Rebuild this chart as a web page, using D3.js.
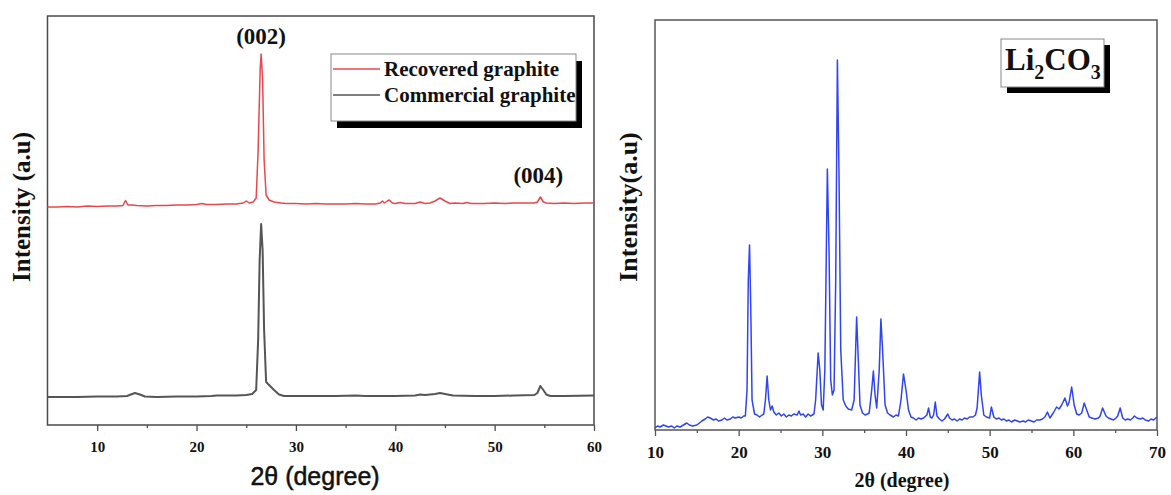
<!DOCTYPE html>
<html>
<head>
<meta charset="utf-8">
<script src="https://cdn.jsdelivr.net/npm/d3@7"></script>
<style>
  body { margin: 0; background: #fff; }
  svg { display: block; }
</style>
</head>
<body>
<svg id="chart" width="1171" height="495"></svg>
<script>
// ---- data (intensities in arbitrary units) ----
const recoveredTheta = [5, 6, 7, 8, 9, 10, 11, 12, 12.6, 12.85, 13.1, 13.5, 14, 15, 16, 17, 18, 19, 20, 20.5, 21, 22, 23, 24, 24.7, 25, 25.3, 25.7, 26.0, 26.2, 26.4, 26.5, 26.65, 26.8, 27.0, 27.3, 27.8, 28.5, 29, 30, 31, 32, 33, 34, 35, 36, 37, 38, 38.5, 38.7, 38.9, 39.2, 39.4, 39.7, 40, 40.5, 41, 42, 42.5, 43, 43.5, 44.0, 44.5, 45.0, 45.5, 46, 46.8, 47.2, 47.6, 48, 49, 50, 51, 52, 53, 54, 54.3, 54.6, 54.9, 55.2, 56, 57, 58, 59, 60];
const recoveredIntensity = [218, 218, 218.5, 218, 219, 218.5, 219, 219, 219.5, 224.5, 220, 220, 219.5, 219, 219.5, 219.5, 220, 220, 220.5, 221.5, 220.5, 220.5, 221, 221, 222, 224, 222, 223, 227, 275, 355, 371, 345, 265, 230, 225, 223, 222, 221.5, 221.5, 221, 221.5, 221, 221, 221, 221.5, 221, 221, 222, 224, 222, 224, 225, 222, 221.5, 222.5, 221.5, 221.5, 223, 221.5, 222, 224, 227, 224, 221.5, 222, 221.5, 222.5, 221.5, 221.5, 221.5, 222, 221.5, 222, 222, 222, 223, 228, 223, 222, 221.5, 222, 221.5, 222, 222];

const commercialTheta = [5, 6, 8, 10, 12, 13, 13.4, 13.8, 14.3, 14.8, 16, 18, 20, 21.5, 22, 24, 25, 25.6, 26.0, 26.2, 26.35, 26.5, 26.65, 26.8, 27.0, 27.3, 27.8, 28.3, 28.8, 30, 32, 34, 36, 37, 40, 42, 42.5, 43, 44, 44.5, 45, 45.8, 48, 50, 52, 54, 54.3, 54.6, 54.9, 55.2, 55.6, 57, 60];
const commercialIntensity = [28, 28, 28, 28.5, 28.5, 29, 30.5, 32, 30.5, 28.5, 28, 28.5, 28.5, 29, 29.5, 29.5, 30, 31, 35, 85, 165, 201, 175, 95, 43, 40, 35, 30.5, 29, 29, 29, 29, 29.5, 29, 29, 29.5, 30.5, 30, 31, 32, 31, 29.5, 29, 29, 29.5, 30, 32, 39, 35, 30.5, 29, 29, 29.5];

const li2co3Theta = [
  10, 10.3, 10.6, 11, 11.3, 11.6, 12, 12.3, 12.6, 13,
  13.4, 13.8, 14.1, 14.5, 15, 15.3, 15.6, 16, 16.3, 16.6,
  17, 17.3, 17.6, 18, 18.3, 18.6, 19, 19.3, 19.6, 20,
  20.3, 20.6, 20.8, 21.0, 21.15, 21.3, 21.45, 21.6, 21.9, 22.2,
  22.5, 22.8, 23.0, 23.2, 23.4, 23.6, 23.8, 24.0, 24.2, 24.5,
  24.8, 25.1, 25.4, 25.7, 26, 26.3, 26.6, 27, 27.2, 27.4,
  27.7, 28, 28.3, 28.6, 29, 29.2, 29.5, 29.7, 29.9, 30.1,
  30.3, 30.6, 30.8, 31.0, 31.2, 31.4, 31.6, 31.8, 32.0, 32.2,
  32.5, 32.8, 33.1, 33.5, 33.8, 34.1, 34.3, 34.5, 34.8, 35.1,
  35.4, 35.6, 35.9, 36.1, 36.3, 36.5, 36.8, 37.0, 37.2, 37.5,
  37.8, 38.1, 38.5, 38.8, 39.1, 39.4, 39.7, 40.0, 40.3, 40.6,
  40.9, 41.2, 41.5, 41.8, 42.1, 42.5, 42.7, 42.9, 43.1, 43.3,
  43.5, 43.7, 44, 44.3, 44.6, 45, 45.2, 45.5, 45.8, 46.1,
  46.4, 46.7, 47, 47.3, 47.6, 48, 48.3, 48.5, 48.8, 49.0,
  49.3, 49.6, 50, 50.2, 50.5, 50.8, 51.1, 51.4, 51.7, 52,
  52.3, 52.6, 53, 53.3, 53.6, 54, 54.3, 54.6, 55, 55.3,
  55.6, 56, 56.3, 56.6, 56.9, 57.2, 57.6, 58, 58.3, 58.6,
  59, 59.3, 59.5, 59.8, 60.1, 60.4, 60.7, 61, 61.3, 61.6,
  61.9, 62.2, 62.6, 63, 63.2, 63.5, 63.9, 64.2, 64.5, 64.8,
  65.1, 65.3, 65.6, 65.9, 66.2, 66.5, 66.8, 67.1, 67.3, 67.6,
  68, 68.3, 68.6, 69, 69.3, 69.6, 70
];
const li2co3Intensity = [
  2, 4, 3, 5, 4, 3, 4, 2, 4, 3,
  5, 7, 5, 4, 5, 7, 9, 11, 13, 12,
  10, 11, 9, 10, 12, 10, 11, 13, 12, 13,
  12, 14, 14, 40, 150, 185, 120, 30, 16, 15,
  13, 15, 16, 30, 54, 30, 20, 24, 18, 15,
  17, 14, 16, 13, 15, 14, 16, 15, 19, 15,
  16, 13, 16, 14, 16, 30, 77, 60, 25, 20,
  60, 261, 180, 50, 35, 40, 150, 370, 250, 80,
  30, 24, 21, 20, 30, 113, 70, 25, 17, 15,
  16, 17, 40, 59, 35, 22, 60, 111, 80, 25,
  17, 15, 13, 15, 14, 30, 56, 40, 20, 13,
  12, 10, 12, 11, 12, 15, 22, 13, 12, 15,
  28, 14, 11, 9, 11, 16, 12, 10, 11, 9,
  11, 10, 12, 11, 13, 13, 15, 22, 58, 35,
  15, 13, 12, 23, 13, 11, 12, 10, 11, 9,
  10, 8, 10, 9, 8, 9, 8, 10, 9, 8,
  10, 10, 11, 13, 18, 12, 17, 23, 21, 25,
  32, 24, 28, 43, 25, 16, 15, 17, 27, 20,
  13, 12, 11, 12, 14, 22, 14, 12, 11, 10,
  12, 14, 22, 12, 10, 11, 10, 12, 14, 12,
  11, 12, 10, 9, 11, 10, 13
];

const graphiteMajorTicks = [10, 20, 30, 40, 50, 60];
const graphiteMinorTicks = [15, 25, 35, 45, 55];
const li2co3MajorTicks = [10, 20, 30, 40, 50, 60, 70];
const li2co3MinorTicks = [15, 25, 35, 45, 55, 65];

const legendLabels = ["Recovered graphite", "Commercial graphite"];
const peakLabels = [{ text: "(002)", theta: 26.5, value: 381 }, { text: "(004)", theta: 54.4, value: 242 }];

const SERIF = "'Liberation Serif', 'Times New Roman', serif";
const SANS = "'Liberation Sans', Arial, sans-serif";

const svg = d3.select("#chart");

function createPanel(opts) {
  const g = svg.append("g");
  const x = d3.scaleLinear().domain(opts.xDomain).range([opts.left, opts.right]);
  const y = d3.scaleLinear().domain(opts.yDomain).range([opts.bottom, opts.top]);

  // minor ticks
  g.append("g")
    .attr("transform", `translate(0,${opts.bottom})`)
    .call(d3.axisBottom(x).tickValues(opts.minor).tickSize(3).tickSizeOuter(0).tickFormat(""))
    .call((a) => a.select(".domain").remove())
    .selectAll("line").attr("stroke", opts.frameColor).attr("stroke-width", 1.3);

  // major ticks + labels
  const ax = g.append("g")
    .attr("transform", `translate(0,${opts.bottom})`)
    .call(d3.axisBottom(x).tickValues(opts.major).tickSize(6).tickSizeOuter(0).tickPadding(opts.tickPad).tickFormat(d3.format("d")));
  ax.select(".domain").remove();
  ax.selectAll("line").attr("stroke", opts.frameColor).attr("stroke-width", 1.3);
  ax.selectAll("text")
    .attr("fill", "#111")
    .style("font-family", SERIF)
    .style("font-weight", "bold")
    .style("font-size", opts.tickFont + "px");

  // frame
  g.append("rect")
    .attr("x", opts.left)
    .attr("y", opts.top)
    .attr("width", opts.right - opts.left)
    .attr("height", opts.bottom - opts.top)
    .attr("fill", "none")
    .attr("stroke", opts.frameColor)
    .attr("stroke-width", 1.5);

  // y label
  g.append("text")
    .attr("transform", `translate(${opts.yLabelX},${opts.yLabelY}) rotate(-90)`)
    .attr("text-anchor", "middle")
    .style("font-family", SERIF)
    .style("font-weight", "bold")
    .style("font-size", opts.yLabelFont + "px")
    .attr("fill", "#111")
    .text(opts.yLabel);

  return { g, x, y };
}

function drawSeries(panel, theta, intensity, color, width) {
  const pts = theta.map((t, i) => [t, intensity[i]]);
  panel.g.append("path")
    .datum(pts)
    .attr("fill", "none")
    .attr("stroke", color)
    .attr("stroke-width", width)
    .attr("stroke-linejoin", "round")
    .attr("d", d3.line().x((d) => panel.x(d[0])).y((d) => panel.y(d[1])));
}

// ---- left panel: graphite ----
const left = createPanel({
  left: 47.5, right: 594, top: 16, bottom: 425,
  xDomain: [5, 60], yDomain: [0, 409],
  major: graphiteMajorTicks, minor: graphiteMinorTicks,
  tickPad: 10, tickFont: 15,
  frameColor: "#4a4a4a",
  yLabel: "Intensity (a.u)", yLabelX: 30, yLabelY: 207, yLabelFont: 25
});

drawSeries(left, recoveredTheta, recoveredIntensity, "#e8484c", 1.5);
drawSeries(left, commercialTheta, commercialIntensity, "#555555", 2);

left.g.selectAll(".peak-label")
  .data(peakLabels)
  .join("text")
  .attr("class", "peak-label")
  .attr("x", (d) => left.x(d.theta))
  .attr("y", (d) => left.y(d.value))
  .attr("text-anchor", "middle")
  .style("font-family", SERIF)
  .style("font-weight", "bold")
  .style("font-size", "23px")
  .attr("fill", "#111")
  .text((d) => d.text);

left.g.append("text")
  .attr("x", 315)
  .attr("y", 485)
  .attr("text-anchor", "middle")
  .style("font-family", SANS)
  .style("font-size", "25px")
  .attr("fill", "#111")
  .attr("stroke", "#111")
  .attr("stroke-width", 0.5)
  .text("2θ (degree)");

// legend
const legend = left.g.append("g").attr("transform", "translate(331,54)");
legend.append("rect").attr("x", 6).attr("y", 7).attr("width", 245).attr("height", 67).attr("fill", "#000");
legend.append("rect").attr("x", 0).attr("y", 0).attr("width", 245).attr("height", 67)
  .attr("fill", "#fff").attr("stroke", "#888").attr("stroke-width", 1);
const legendColors = ["#e8484c", "#555555"];
legendLabels.forEach((label, i) => {
  const row = legend.append("g").attr("transform", `translate(0,${15 + i * 26})`);
  row.append("line").attr("x1", 2).attr("x2", 49).attr("stroke", legendColors[i]).attr("stroke-width", 1.5);
  row.append("text")
    .attr("x", 53)
    .attr("y", 7)
    .style("font-family", SERIF)
    .style("font-weight", "bold")
    .style("font-size", "21px")
    .attr("fill", "#111")
    .text(label);
});

// ---- right panel: Li2CO3 ----
const right = createPanel({
  left: 655, right: 1157, top: 20, bottom: 430,
  xDomain: [10, 70], yDomain: [0, 410],
  major: li2co3MajorTicks, minor: li2co3MinorTicks,
  tickPad: 10, tickFont: 17,
  frameColor: "#555555",
  yLabel: "Intensity(a.u)", yLabelX: 637, yLabelY: 207, yLabelFont: 26
});

drawSeries(right, li2co3Theta, li2co3Intensity, "#2f45f0", 1.5);

right.g.append("text")
  .attr("x", 902)
  .attr("y", 487)
  .attr("text-anchor", "middle")
  .style("font-family", SERIF)
  .style("font-weight", "bold")
  .style("font-size", "20px")
  .attr("fill", "#111")
  .text("2θ (degree)");

const tag = right.g.append("g").attr("transform", "translate(1001,39)");
tag.append("rect").attr("x", 6).attr("y", 6).attr("width", 103).attr("height", 48).attr("fill", "#000");
tag.append("rect").attr("width", 103).attr("height", 48).attr("fill", "#fff").attr("stroke", "#888");
const tagText = tag.append("text")
  .attr("x", 4)
  .attr("y", 31)
  .style("font-family", SERIF)
  .style("font-weight", "bold")
  .style("font-size", "31px")
  .attr("fill", "#111");
tagText.append("tspan").text("Li");
tagText.append("tspan").attr("dy", 9).style("font-size", "20px").text("2");
tagText.append("tspan").attr("dy", -9).text("CO");
tagText.append("tspan").attr("dy", 9).style("font-size", "20px").text("3");
</script>
</body>
</html>
